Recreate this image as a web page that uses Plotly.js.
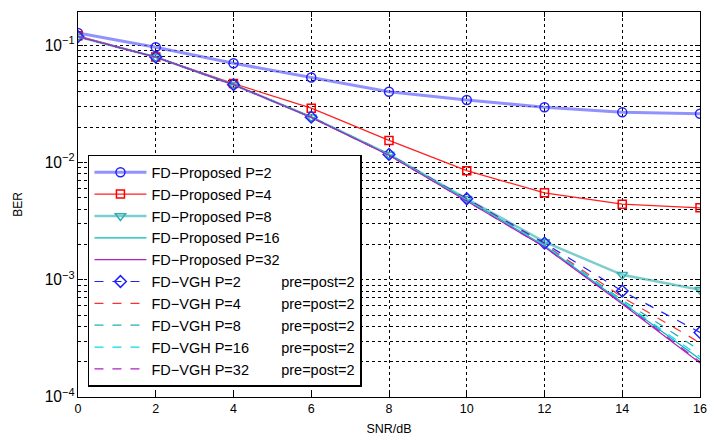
<!DOCTYPE html>
<html>
<head>
<meta charset="utf-8">
<script src="https://cdn.plot.ly/plotly-3.0.1.min.js"></script>
<style>html,body{margin:0;padding:0;background:#fff;}#chart{width:724px;height:439px;}</style>
</head>
<body>
<div id="chart"></div>
<script>
const snr = [0, 2, 4, 6, 8, 10, 12, 14, 16];
const propP2  = [0.127, 0.096, 0.070, 0.053, 0.040, 0.034, 0.0295, 0.0267, 0.026];
const propP4  = [0.120, 0.079, 0.047, 0.029, 0.0154, 0.0085, 0.0055, 0.0044, 0.0041];
const propP8  = [0.118, 0.079, 0.046, 0.0243, 0.0117, 0.0049, 0.0021, 0.0011, 0.00082];
const propP16 = [0.118, 0.079, 0.046, 0.0243, 0.0116, 0.0048, 0.00195, 0.00064, 0.00021];
const propP32 = [0.118, 0.079, 0.046, 0.0242, 0.0115, 0.0047, 0.0019, 0.00062, 0.000195];
const vghP2   = [0.118, 0.079, 0.046, 0.0243, 0.0117, 0.0049, 0.00205, 0.00080, 0.000355];
const vghP4   = [0.118, 0.079, 0.046, 0.0243, 0.0117, 0.0048, 0.0020, 0.00071, 0.00029];
const vghP8   = [0.118, 0.079, 0.046, 0.0243, 0.0116, 0.0048, 0.00198, 0.00067, 0.00025];
const vghP16  = [0.118, 0.079, 0.046, 0.0243, 0.0116, 0.0048, 0.00196, 0.00065, 0.00022];
const vghP32  = [0.118, 0.079, 0.046, 0.0242, 0.0115, 0.0047, 0.0019, 0.00063, 0.0002];
const sp = n => '\u00a0'.repeat(n);
const names = ['FD\u2212Proposed P=2','FD\u2212Proposed P=4','FD\u2212Proposed P=8','FD\u2212Proposed P=16','FD\u2212Proposed P=32',
  'FD\u2212VGH P=2' + sp(10) + 'pre=post=2', 'FD\u2212VGH P=4' + sp(10) + 'pre=post=2',
  'FD\u2212VGH P=8' + sp(10) + 'pre=post=2', 'FD\u2212VGH P=16' + sp(8) + 'pre=post=2',
  'FD\u2212VGH P=32' + sp(8) + 'pre=post=2'];

const traces = [
  {x: snr, y: propP2, name: names[0], mode: 'lines+markers',
   line: {color: 'rgba(100,100,255,0.7)', width: 3},
   marker: {symbol: 'circle-open', size: 9, color: '#2222ff', line: {width: 1.5, color: '#2222ff'}}},
  {x: snr, y: propP4, name: names[1], mode: 'lines+markers',
   line: {color: '#ff2020', width: 1.2},
   marker: {symbol: 'square-open', size: 8, color: '#ff0000', line: {width: 1.5}}},
  {x: snr, y: propP8, name: names[2], mode: 'lines+markers',
   line: {color: 'rgba(80,190,190,0.75)', width: 2.5},
   marker: {symbol: 'triangle-down-open', size: 9, color: '#30b0b0', line: {width: 1.5}}},
  {x: snr, y: propP16, name: names[3], mode: 'lines',
   line: {color: '#00b8b8', width: 1.2}},
  {x: snr, y: propP32, name: names[4], mode: 'lines',
   line: {color: '#b020c0', width: 1.2}},
  {x: snr, y: vghP2, name: names[5], mode: 'lines+markers',
   line: {color: '#2020ff', width: 1.2, dash: 'dash'},
   marker: {symbol: 'diamond-open', size: 9, color: '#2020ff', line: {width: 1.5}}},
  {x: snr, y: vghP4, name: names[6], mode: 'lines',
   line: {color: '#ff3030', width: 1.2, dash: 'dash'}},
  {x: snr, y: vghP8, name: names[7], mode: 'lines',
   line: {color: '#20b0b0', width: 1.2, dash: 'dash'}},
  {x: snr, y: vghP16, name: names[8], mode: 'lines',
   line: {color: '#00e0e8', width: 1.2, dash: 'dash'}},
  {x: snr, y: vghP32, name: names[9], mode: 'lines',
   line: {color: '#b020c0', width: 1.2, dash: 'dash'}}
];
traces.forEach(t => { t.type = 'scatter'; });

const layout = {
  width: 724, height: 439,
  margin: {l: 78, r: 24, t: 12, b: 42},
  paper_bgcolor: '#fff', plot_bgcolor: '#fff',
  font: {family: 'Liberation Sans, Arial, sans-serif', size: 12, color: '#000'},
  showlegend: true,
  legend: {x: 0.016, y: 0.629, xanchor: 'left', yanchor: 'top',
    bgcolor: '#fff', bordercolor: '#000', borderwidth: 1.5,
    font: {size: 14.5, color: '#000'}, itemwidth: 52, tracegroupgap: 0},
  xaxis: {range: [0, 16], dtick: 2, tick0: 0, showline: true, mirror: 'ticks',
    linecolor: '#000', linewidth: 1, ticks: 'inside', ticklen: 5, tickcolor: '#000',
    showgrid: true, gridcolor: '#000', griddash: 'dot', gridwidth: 1, zeroline: false,
    tickfont: {size: 12.5},
    title: {text: 'SNR/dB', font: {size: 12.5}, standoff: 9}},
  yaxis: {type: 'log', range: [-4, -0.718], dtick: 1, exponentformat: 'power',
    showline: true, mirror: 'ticks', linecolor: '#000', linewidth: 1,
    ticks: 'inside', ticklen: 5, tickcolor: '#000',
    showgrid: true, gridcolor: '#000', griddash: 'dot', gridwidth: 1, zeroline: false,
    tickfont: {size: 12.5},
    minor: {dtick: 'D1', showgrid: true, gridcolor: '#000', griddash: 'dot', gridwidth: 1,
      ticks: 'inside', ticklen: 3, tickcolor: '#000'},
    title: {text: 'BER', font: {size: 12}, standoff: 19}}
};

Plotly.newPlot('chart', traces, layout, {displayModeBar: false, staticPlot: true});
</script>
</body>
</html>
